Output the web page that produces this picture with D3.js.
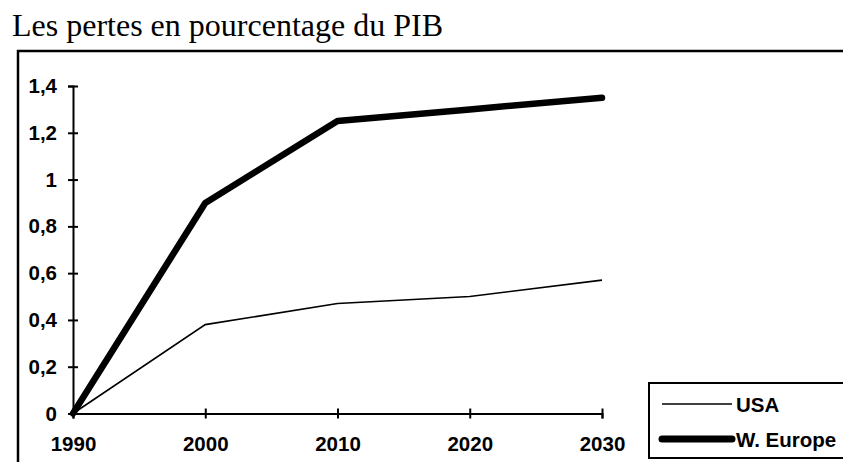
<!DOCTYPE html>
<html>
<head>
<meta charset="utf-8">
<script src="https://cdn.jsdelivr.net/npm/d3@7"></script>
<style>
  body { margin: 0; background: #fff; }
  svg text { fill: #000; }
</style>
</head>
<body>
<div id="chart"></div>
<script>
// data
let years = [1990, 2000, 2010, 2020, 2030];
let usa = [0, 0.38, 0.47, 0.50, 0.57];
let europe = [0, 0.90, 1.25, 1.30, 1.35];
let yTicks = [0, 0.2, 0.4, 0.6, 0.8, 1, 1.2, 1.4];
let seriesNames = ["USA", "W. Europe"];
let title = "Les pertes en pourcentage du PIB";

let width = 843, height = 462;
let sans = "'Liberation Sans', Arial, sans-serif";

let svg = d3.select("#chart").append("svg")
    .attr("width", width)
    .attr("height", height);

// title above the frame
svg.append("text")
    .attr("x", 12)
    .attr("y", 36)
    .style("font-family", "'Liberation Serif', 'Times New Roman', serif")
    .style("font-size", "32px")
    .text(title);

// outer frame, cut by the window on the right and bottom
svg.append("rect")
    .attr("x", 18)
    .attr("y", 51)
    .attr("width", 900)
    .attr("height", 500)
    .attr("fill", "none")
    .attr("stroke", "#000")
    .attr("stroke-width", 2.5);

let x = d3.scalePoint()
    .domain(years)
    .range([73, 602]);

let y = d3.scaleLinear()
    .domain([0, 1.4])
    .range([413.5, 86]);

let fmt = d => String(d).replace(".", ",");

// y axis, ticks cross the line
let yAxis = d3.axisLeft(y)
    .tickValues(yTicks)
    .tickFormat(fmt)
    .tickSize(5)
    .tickPadding(11);

let gy = svg.append("g")
    .attr("transform", "translate(73,0)")
    .call(yAxis);

gy.selectAll(".tick line").attr("x1", 5).attr("x2", -5);

// x axis
let xAxis = d3.axisBottom(x)
    .tickSize(5)
    .tickPadding(18);

let gx = svg.append("g")
    .attr("transform", "translate(0,413.5)")
    .call(xAxis);

gx.selectAll(".tick line").attr("y1", -5).attr("y2", 5);

[gx, gy].forEach(g => {
    g.select(".domain").attr("stroke", "#000").attr("stroke-width", 2);
    g.selectAll(".tick line").attr("stroke", "#000").attr("stroke-width", 2);
    g.selectAll(".tick text")
        .style("font-family", sans)
        .style("font-weight", "bold")
        .style("font-size", "20.5px");
});

let line = d3.line()
    .x((d, i) => x(years[i]))
    .y(d => y(d));

svg.append("path")
    .datum(usa)
    .attr("d", line)
    .attr("fill", "none")
    .attr("stroke", "#000")
    .attr("stroke-width", 1.6);

svg.append("path")
    .datum(europe)
    .attr("d", line)
    .attr("fill", "none")
    .attr("stroke", "#000")
    .attr("stroke-width", 6.5)
    .attr("stroke-linecap", "round")
    .attr("stroke-linejoin", "round");

// legend box, also cut on the right
let legend = svg.append("g");

legend.append("rect")
    .attr("x", 649)
    .attr("y", 383)
    .attr("width", 300)
    .attr("height", 75)
    .attr("fill", "#fff")
    .attr("stroke", "#000")
    .attr("stroke-width", 2);

let legendWidths = [1.6, 7];
seriesNames.forEach((name, i) => {
    let ly = 404 + i * 35;
    legend.append("line")
        .attr("x1", i ? 662 : 662)
        .attr("x2", 732)
        .attr("y1", ly)
        .attr("y2", ly)
        .attr("stroke", "#000")
        .attr("stroke-width", legendWidths[i])
        .attr("stroke-linecap", i ? "round" : "butt");
    legend.append("text")
        .attr("x", 736)
        .attr("y", ly + 7.5)
        .style("font-family", sans)
        .style("font-weight", "bold")
        .style("font-size", "20.5px")
        .text(name);
});
</script>
</body>
</html>
